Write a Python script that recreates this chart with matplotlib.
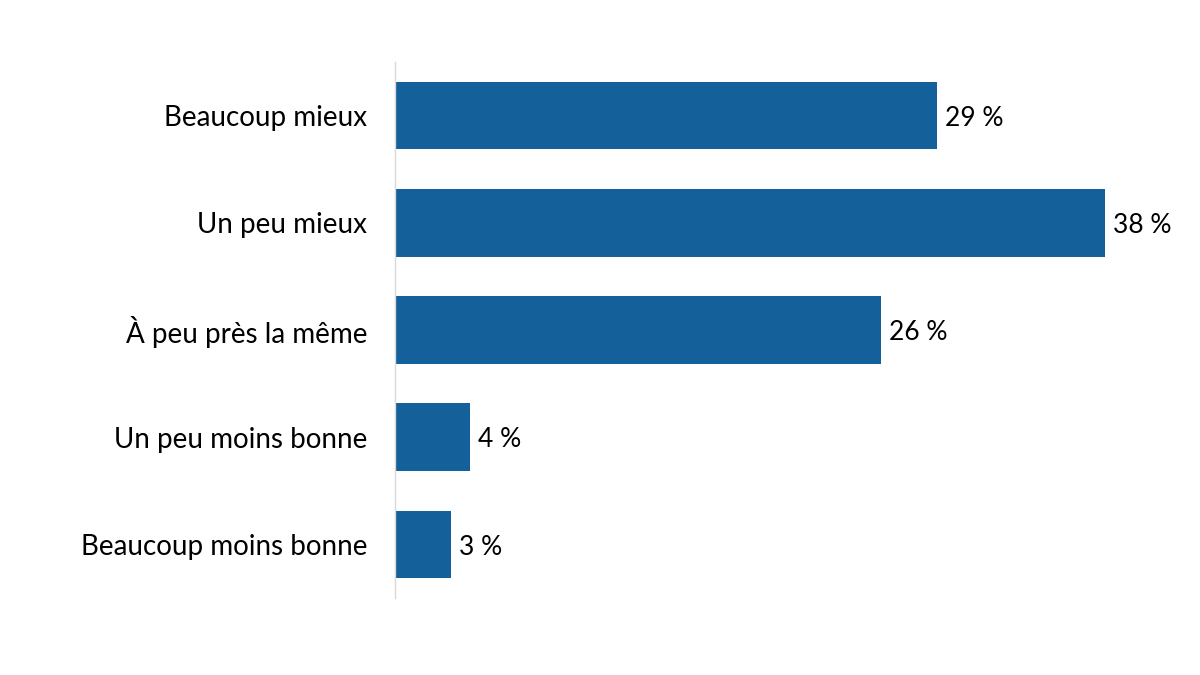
import matplotlib
matplotlib.use("Agg")
import matplotlib.pyplot as plt

categories = ["Beaucoup mieux", "Un peu mieux", "À peu près la même",
              "Un peu moins bonne", "Beaucoup moins bonne"]
values = [29, 38, 26, 4, 3]
value_labels = ["29 %", "38 %", "26 %", "4 %", "3 %"]

bar_color = "#13609B"

plt.rcParams['font.family'] = ['Lato', 'DejaVu Sans']

fig = plt.figure(figsize=(12, 6.75), dpi=100)
ax = fig.add_axes([395 / 1200, 1 - 598 / 675, (1161 - 395) / 1200, (598 - 62) / 675])

y = list(range(len(categories)))
ax.barh(y, values, height=0.63, color=bar_color)

# value labels just right of each bar
for yi, v, lab in zip(y, values, value_labels):
    ax.annotate(lab, (v, yi), xytext=(6, -2), textcoords="offset points",
                va="center", ha="left", fontsize=19, color="black")

ax.set_xlim(0, 41)
ax.set_ylim(len(categories) - 0.5, -0.5)
ax.set_yticks(y)
ax.set_yticklabels(categories, fontsize=20)
ax.tick_params(axis="y", length=0, pad=20)
ax.set_xticks([])

for side in ["top", "right", "bottom"]:
    ax.spines[side].set_visible(False)
ax.spines["left"].set_color("#D9D9D9")
ax.spines["left"].set_linewidth(1)

fig.savefig("out.png", dpi=100)
